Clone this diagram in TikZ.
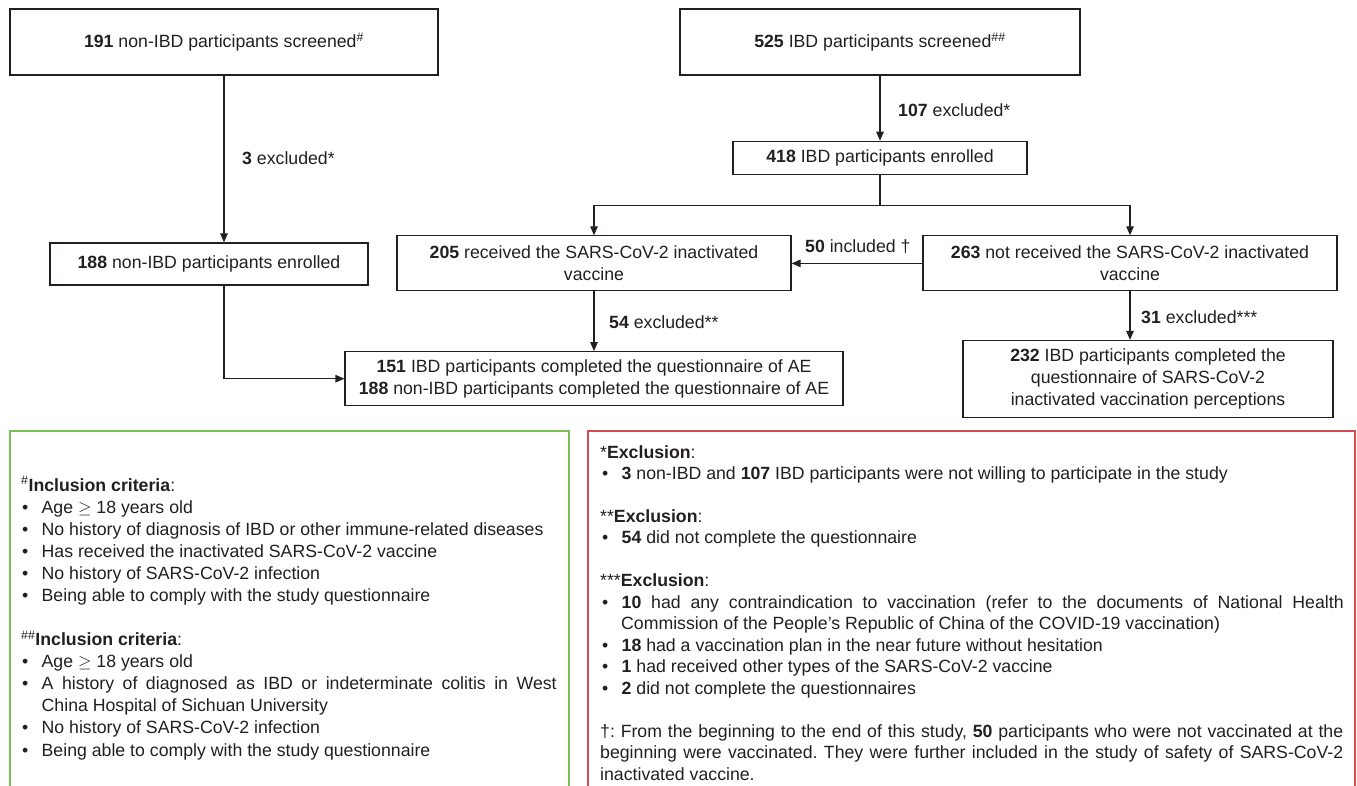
\documentclass[tikz,border=0pt]{standalone}
\usepackage{fontspec}
\setmainfont{Liberation Sans}
\usetikzlibrary{arrows.meta,calc}
\definecolor{gbox}{RGB}{125,190,85}
\definecolor{rbox}{RGB}{215,75,85}
\definecolor{ink}{RGB}{35,31,32}
\newcommand{\bl}{\makebox[19.5pt][l]{\textbullet}}
\frenchspacing
\begin{document}
\begin{tikzpicture}[x=1pt,y=-1pt,
  font=\fontsize{17.7}{21.7}\selectfont,
  box/.style={draw=ink, line width=1.2pt, inner sep=0pt, align=center, text=ink},
  conn/.style={draw=ink, line width=1.2pt},
  arr/.style={conn, -{Triangle[length=9pt,width=7.5pt]}},
  lbl/.style={anchor=west, inner sep=0pt, text=ink},
  txt/.style={anchor=base west, inner sep=0pt, text=ink},
  ]
\useasboundingbox (0,0) rectangle (1357,786);

% flow boxes
\node[box, minimum width=428pt, minimum height=66pt] (A) at (224,42)
  {\textbf{191} non-IBD participants screened\textsuperscript{\#}};
\node[box, minimum width=318pt, minimum height=42pt] (B) at (209,264)
  {\textbf{188} non-IBD participants enrolled};
\node[box, minimum width=400pt, minimum height=66pt] (C) at (880,42)
  {\textbf{525} IBD participants screened\textsuperscript{\#\#}};
\node[box, minimum width=294pt, minimum height=33pt] (D) at (880,157.8)
  {\textbf{418} IBD participants enrolled};
\node[box, minimum width=394pt, minimum height=55pt] (E) at (594,263.4)
  {\textbf{205} received the SARS-CoV-2 inactivated\\vaccine};
\node[box, minimum width=414pt, minimum height=55pt] (G) at (1130,263.4)
  {\textbf{263} not received the SARS-CoV-2 inactivated\\vaccine};
\node[box, minimum width=498pt, minimum height=54pt] (F) at (594,378.7)
  {\textbf{151} IBD participants completed the questionnaire of AE\\
   \textbf{188} non-IBD participants completed the questionnaire of AE};
\node[box, minimum width=370pt, minimum height=77pt] (H) at (1148,379)
  {\textbf{232} IBD participants completed the\\questionnaire of SARS-CoV-2\\inactivated vaccination perceptions};

% connectors
\draw[arr] (A.south) -- (A.south |- B.north);
\draw[arr] (A.south |- B.south) |- (F.west);
\draw[arr] (C.south) -- (D.north);
\draw[conn] (D.south) -- ++(0,31) coordinate (split);
\draw[arr] (split) -| (E.north);
\draw[arr] (split) -| (G.north);
\draw[arr] (G.west) -- (G.west -| E.east);
\draw[arr] (E.south) -- (F.north);
\draw[arr] (G.south) -- (G.south |- H.north);

% connector labels
\node[lbl] (l1) at (242,158) {\textbf{3} excluded*};
\node[lbl] (l2) at (898,110) {\textbf{107} excluded*};
\node[lbl] (l3) at (805,247) {\textbf{50} included \textdagger};
\node[lbl] (l4) at (609,322) {\textbf{54} excluded**};
\node[lbl] (l5) at (1141,317) {\textbf{31} excluded***};

% footnote frames
\draw[gbox, line width=1.3pt] (10,786) -- (10,431) -- (569,431) -- (569,786);
\draw[rbox, line width=1.3pt] (588,786) -- (588,431) -- (1355,431) -- (1355,786);

% green box text
\node[txt] (g1) at (21,491) {\textsuperscript{\#}\textbf{Inclusion criteria}:};
\node[txt] (g2) at (22,513.1) {\bl Age \(\geq\) 18 years old};
\node[txt] (g3) at (22,535.2) {\bl No history of diagnosis of IBD or other immune-related diseases};
\node[txt] (g4) at (22,557.2) {\bl Has received the inactivated SARS-CoV-2 vaccine};
\node[txt] (g5) at (22,579.3) {\bl No history of SARS-CoV-2 infection};
\node[txt] (g6) at (22,601.4) {\bl Being able to comply with the study questionnaire};
\node[txt] (g7) at (21,645.6) {\textsuperscript{\#\#}\textbf{Inclusion criteria}:};
\node[txt] (g8) at (22,667.7) {\bl Age \(\geq\) 18 years old};
\node[txt] (g9) at (22,689.8) {\bl \makebox[515pt][s]{A history of diagnosed as IBD or indeterminate colitis in West}};
\node[txt] (g10) at (41.5,711.8) {China Hospital of Sichuan University};
\node[txt] (g11) at (22,733.9) {\bl No history of SARS-CoV-2 infection};
\node[txt] (g12) at (22,756) {\bl Being able to comply with the study questionnaire};

% red box text
\node[txt] (r1) at (600,458) {*\textbf{Exclusion}:};
\node[txt] (r2) at (602,479.5) {\bl \textbf{3} non-IBD and \textbf{107} IBD participants were not willing to participate in the study};
\node[txt] (r3) at (600,522.4) {**\textbf{Exclusion}:};
\node[txt] (r4) at (602,543.9) {\bl \textbf{54} did not complete the questionnaire};
\node[txt] (r5) at (600,586.8) {***\textbf{Exclusion}:};
\node[txt] (r6) at (602,608.3) {\bl \makebox[722pt][s]{\textbf{10} had any contraindication to vaccination (refer to the documents of National Health}};
\node[txt] (r7) at (621,629.8) {Commission of the People’s Republic of China of the COVID-19 vaccination)};
\node[txt] (r8) at (602,651.2) {\bl \textbf{18} had a vaccination plan in the near future without hesitation};
\node[txt] (r9) at (602,672.7) {\bl \textbf{1} had received other types of the SARS-CoV-2 vaccine};
\node[txt] (r10) at (602,694.2) {\bl \textbf{2} did not complete the questionnaires};
\node[txt] (r11) at (600,737.1) {\makebox[743pt][s]{\textdagger: From the beginning to the end of this study, \textbf{50} participants who were not vaccinated at the}};
\node[txt] (r12) at (600,758.6) {\makebox[743pt][s]{beginning were vaccinated. They were further included in the study of safety of SARS-CoV-2}};
\node[txt] (r13) at (600,780.1) {inactivated vaccine.};
\end{tikzpicture}
\end{document}
